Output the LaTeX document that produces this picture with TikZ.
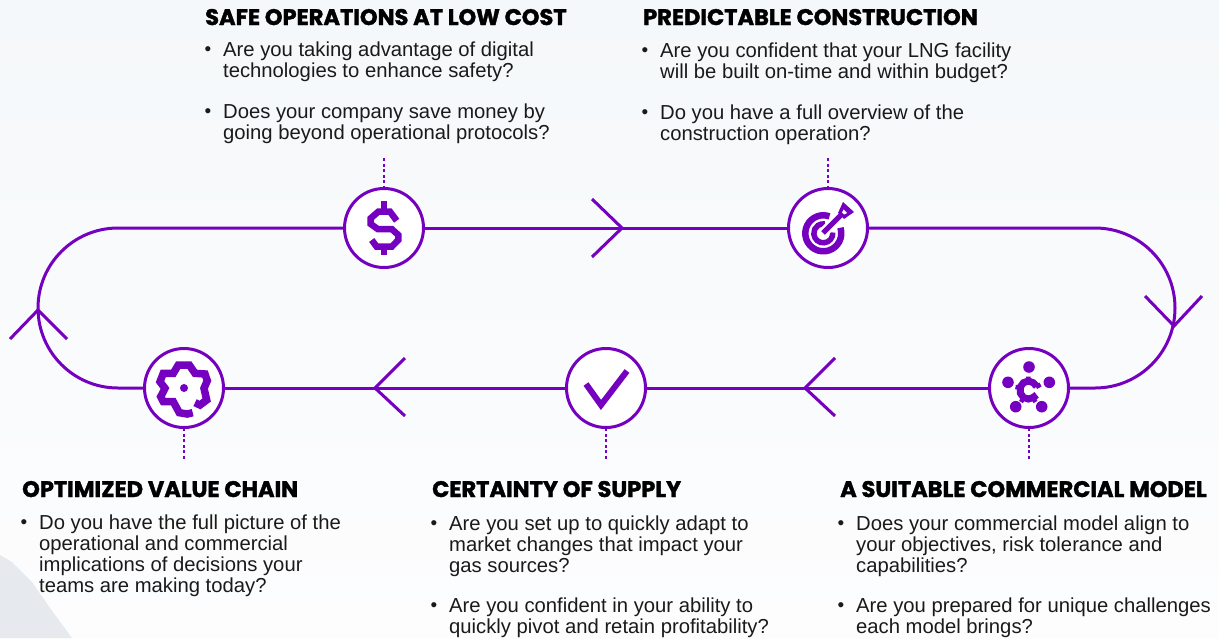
\documentclass[tikz,border=0pt]{standalone}
\usepackage{fontspec}
\setmainfont{Liberation Sans}
\newfontfamily\hdfont[FakeBold=1.6]{Poppins Bold}
\definecolor{vio}{HTML}{7500C0}
\definecolor{ink}{HTML}{1A1A1A}
\definecolor{bgtop}{HTML}{F5F8FA}
\definecolor{bgbot}{HTML}{FDFDFE}
\definecolor{peak}{HTML}{E6EAEE}
\tikzset{
 x=1pt,y=-1pt,
 hub/.style={circle,draw=vio,fill=white,line width=3pt,minimum size=79pt,inner sep=0pt,outer sep=0pt},
 loopline/.style={draw=vio,line width=3pt},
 tick/.style={draw=vio,line width=1.4pt,dash pattern=on 3pt off 2.6pt},
 glyph/.style={draw=vio,line width=6.5pt,line join=miter},
 head/.style={anchor=base west,inner sep=0pt,font=\hdfont\fontsize{22.5}{24}\selectfont,text=black},
 body/.style={anchor=north west,inner sep=0pt,align=left,font=\fontsize{20.25}{21}\selectfont,text=ink},
 bul/.style={anchor=base,inner sep=0pt,font=\fontsize{19}{21}\selectfont,text=ink},
}
\newcommand{\strt}{\rule{0pt}{15pt}}
\begin{document}
\begin{tikzpicture}
\useasboundingbox (0,0) rectangle (1219,638);
\shade[top color=bgtop,bottom color=bgbot] (0,0) rectangle (1219,638);
\fill[peak] (0,555) -- (12,562) -- (32,582) -- (50,608) -- (72,638) -- (0,638) -- cycle;
% hubs
\node[hub] (c1) at (384,228) {};
\node[hub] (c2) at (828,228) {};
\node[hub] (c3) at (1029,388) {};
\node[hub] (c4) at (606,388) {};
\node[hub] (c5) at (184,388) {};
% loop
\draw[loopline] (c1) -- (c2);
\draw[loopline] (c2) -- (1095,228) .. controls (1139.2,228) and (1175,263.8) .. (1175,308) .. controls (1175,352.2) and (1139.2,388) .. (1095,388) -- (c3);
\draw[loopline] (c3) -- (c4);
\draw[loopline] (c4) -- (c5);
\draw[loopline] (c5) -- (118,388) .. controls (73.8,388) and (38,352.2) .. (38,308) .. controls (38,263.8) and (73.8,228) .. (118,228) -- (c1);
% chevrons
\draw[loopline] (592,199) -- (622,228) -- (592,257);
\draw[loopline] (1145,296) -- (1174,326) -- (1202,296);
\draw[loopline] (835,358) -- (805,388) -- (835,416);
\draw[loopline] (405,358) -- (375,388) -- (405,416);
\draw[loopline] (10,339) -- (38,310) -- (67,339);
% ticks
\coordinate (t1) at (384,158); \coordinate (t2) at (828,158);
\coordinate (t3) at (1029,459); \coordinate (t4) at (606,459); \coordinate (t5) at (184,459);
\draw[tick] (t1) -- (c1); \draw[tick] (t2) -- (c2); \draw[tick] (t3) -- (c3); \draw[tick] (t4) -- (c4); \draw[tick] (t5) -- (c5);
% dollar
\begin{scope}[shift={(384,228)}]
\draw[glyph] (12.7,-7.3) -- (6,-16.3) -- (-5.7,-16.3) -- (-13.3,-9.7) -- (-13.3,-4) -- (-6.3,1) -- (7.7,1) -- (14.3,7) -- (14.3,12) -- (7.7,18.7) -- (-7.3,18.7) -- (-12.3,12);
\draw[glyph] (0,-27) -- (0,-16) (0,18) -- (0,27);
\end{scope}
% target
\begin{scope}[shift={(828,228)}]
\draw[glyph] (-4.7,5.3) ++(-18:18) arc[start angle=-18,end angle=290,radius=18];
\draw[glyph,line width=5.5pt] (-4.7,5.3) ++(-5:9.5) arc[start angle=-5,end angle=280,radius=9.5];
\draw[white,line width=10pt] (-3,3) -- (9,-9);
\draw[glyph,line width=5pt] (-5,5) -- (14,-14);
\fill[vio] (10,-15) -- (15,-26) -- (26,-16) -- (16,-9) -- cycle;
\fill[white] (14,-15.5) -- (15.5,-18.5) -- (19,-15) -- (16,-13.5) -- cycle;
\end{scope}
% commercial
\begin{scope}[shift={(1029,388)}]
\foreach \p in {(0,-21),(-21,-5.7),(20.3,-5.7),(-13.3,18.7),(12.7,18.7)} \fill[vio] \p circle[radius=5.8];
\draw[glyph,line width=7pt] (7.6,-1.8) -- (4.2,-5.3) -- (-0.7,-7) -- (-5.5,-5.3) -- (-8.7,-1) -- (-8.7,5) -- (-5.5,9.5) -- (-0.7,11) -- (4.2,9.5) -- (7.6,6.8);
\draw[glyph,line width=4.5pt] (-0.7,-11.5) -- (-0.7,-6) (-13.5,-1) -- (-8,0) (-8,14) -- (-5,9) (6.5,14) -- (3.5,9) (11.5,-3.5) -- (7,-1) ;
\end{scope}
% check
\draw[glyph,line width=6pt] (586,384) -- (601,405) -- (627,371);
% gear
\begin{scope}[shift={(184,388)}]
\fill[vio] (0,0) circle[radius=4];
\draw[glyph,line width=7.5pt] (11,14.7) -- (16,17) -- (22.7,12) -- (20,0.3) -- (23.3,-7.3) -- (21,-14) -- (11,-14.7) -- (5.3,-23) -- (-5.7,-23) -- (-10.7,-14.7) -- (-20.7,-14.7) -- (-24,-6.3) -- (-19,0.3) -- (-23.3,8.7) -- (-20.7,13.7) -- (-10.7,13.7) -- (-4.7,24.7) -- (3.3,26) -- (8.7,24.7);
\end{scope}
% headings
\node[head] (h1) at (205,25) {SAFE OPERATIONS AT LOW COST};
\node[head] (h2) at (643,25) {PREDICTABLE CONSTRUCTION};
\node[head] (h3) at (22,497) {OPTIMIZED VALUE CHAIN};
\node[head] (h4) at (432,497) {CERTAINTY OF SUPPLY};
\node[head] (h5) at (840,497) {A SUITABLE COMMERCIAL MODEL};
% body
\node[body] (a1) at (223,41) {\strt Are you taking advantage of digital\\technologies to enhance safety?};
\node[body] (a2) at (223,103) {\strt Does your company save money by\\going beyond operational protocols?};
\node[body] (b1) at (660,42) {\strt Are you confident that your LNG facility\\will be built on-time and within budget?};
\node[body] (b2) at (660,104) {\strt Do you have a full overview of the\\construction operation?};
\node[body] (d1) at (39,514) {\strt Do you have the full picture of the\\operational and commercial\\implications of decisions your\\teams are making today?};
\node[body] (e1) at (449,515) {\strt Are you set up to quickly adapt to\\market changes that impact your\\gas sources?};
\node[body] (e2) at (449,597) {\strt Are you confident in your ability to\\quickly pivot and retain profitability?};
\node[body] (f1) at (856,515) {\strt Does your commercial model align to\\your objectives, risk tolerance and\\capabilities?};
\node[body] (f2) at (856,597) {\strt Are you prepared for unique challenges\\each model brings?};
% bullets
\node[bul] (ba1) at (208,55) {•}; \node[bul] (ba2) at (208,117) {•};
\node[bul] (bb1) at (645,56) {•}; \node[bul] (bb2) at (645,118) {•};
\node[bul] (bd1) at (24,528) {•};
\node[bul] (be1) at (434,529) {•}; \node[bul] (be2) at (434,611) {•};
\node[bul] (bf1) at (841,529) {•}; \node[bul] (bf2) at (841,611) {•};
\end{tikzpicture}
\end{document}
